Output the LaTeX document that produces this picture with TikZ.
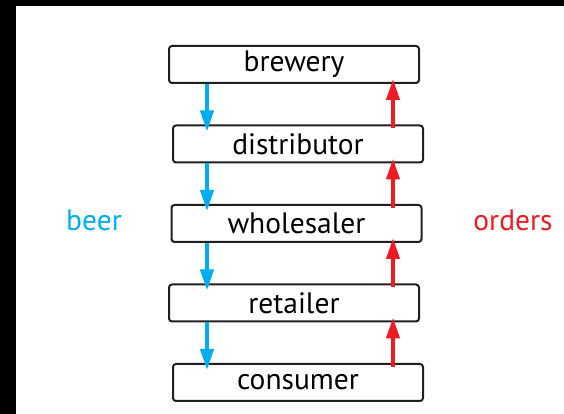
\documentclass[tikz,border=0pt]{standalone}
\usepackage{fontspec}
\setmainfont{PT Sans}
\usetikzlibrary{arrows.meta}
\definecolor{beerblue}{RGB}{0,174,239}
\definecolor{orderred}{RGB}{237,28,36}
\definecolor{boxline}{RGB}{35,31,32}

\begin{document}
\begin{tikzpicture}
          [x=1pt, y=1pt, node distance={79.5pt}, font=\fontsize{29.5}{34}\selectfont,
           stage/.style = {draw=boxline, line width=2pt, rounded corners=3pt, minimum width=250pt, minimum height=37pt, inner sep=0pt},
           beer/.style = {draw=beerblue, line width=4pt, -{Triangle[length=21pt,width=13pt]}},
           orders/.style = {draw=orderred, line width=4pt, -{Triangle[length=21pt,width=13pt]}}]
          \useasboundingbox (0,0) rectangle (564,414);
          \fill[black] (0,0) rectangle (16,414);
          \fill[black] (0,408) rectangle (564,414);

          \node[stage] (1) at (294,349.5) {brewery};
          \node[stage] (2) [below of=1, xshift=4pt] {distributor};
          \node[stage] (3) [below of=2, xshift=-1.5pt] {wholesaler};
          \node[stage] (4) [below of=3, xshift=-2.5pt] {retailer};
          \node[stage] (5) [below of=4, xshift=4pt] {consumer};

          \coordinate (beerline) at (207,0);
          \coordinate (orderline) at (393,0);

          \draw[beer] (1.south -| beerline) -- ([yshift=-7pt]2.north -| beerline);
          \draw[beer] (2.south -| beerline) -- ([yshift=-7pt]3.north -| beerline);
          \draw[beer] (3.south -| beerline) -- ([yshift=-7pt]4.north -| beerline);
          \draw[beer] (4.south -| beerline) -- ([yshift=-7pt]5.north -| beerline);

          \draw[orders] ([yshift=-4pt]2.north -| orderline) -- ([yshift=5pt]1.south -| orderline);
          \draw[orders] ([yshift=-4pt]3.north -| orderline) -- ([yshift=5pt]2.south -| orderline);
          \draw[orders] ([yshift=-4pt]4.north -| orderline) -- ([yshift=5pt]3.south -| orderline);
          \draw[orders] ([yshift=-4pt]5.north -| orderline) -- ([yshift=5pt]4.south -| orderline);

          \node[text=beerblue] (beer) at (94,194) {beer};
          \node[text=orderred] (orders) at (513,194) {orders};
\end{tikzpicture}
\end{document}
